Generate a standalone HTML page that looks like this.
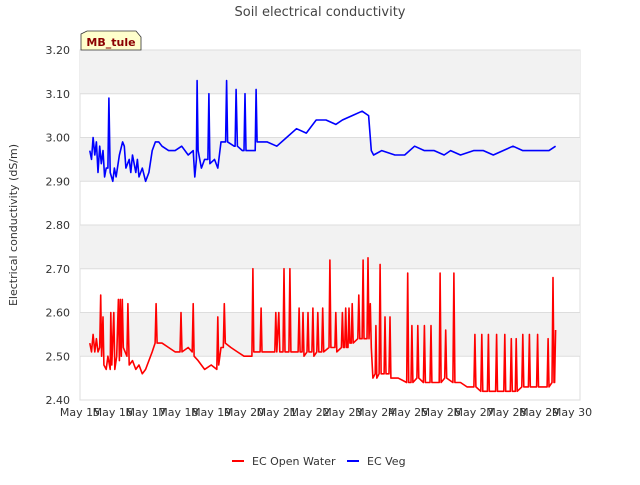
<!DOCTYPE html>
<html><head><meta charset="utf-8"><style>
body{margin:0;background:#fff;font-family:"Liberation Sans",sans-serif}
svg text{font-family:"DejaVu Sans","Liberation Sans",sans-serif}
</style></head><body>
<svg id="c" width="640" height="480" viewBox="0 0 640 480">
<text x="320" y="16" text-anchor="middle" font-size="13" fill="#444">Soil electrical conductivity</text>
<g id="grid"></g>
<g id="axes"></g>
<path id="red" fill="none" stroke="#ff0000" stroke-width="1.6" stroke-linejoin="round"/>
<path id="blue" fill="none" stroke="#0000ff" stroke-width="1.6" stroke-linejoin="round"/>
<text transform="translate(17,225) rotate(-90)" text-anchor="middle" font-size="11" fill="#333">Electrical conductivity (dS/m)</text>
<g>
<path d="M81,34 L87,31 L136,31 L141,37 L141,50 L81,50 Z" fill="#ffffcc" stroke="#333" stroke-width="0.8"/>
<text x="111" y="46" text-anchor="middle" font-size="11" font-weight="bold" fill="#8b0000">MB_tule</text>
</g>
<g>
<g><line x1="232" y1="461" x2="244" y2="461" stroke="#f00" stroke-width="2"/><text x="252" y="465" font-size="11" fill="#333">EC Open Water</text></g>
<g><line x1="347" y1="461" x2="359" y2="461" stroke="#00f" stroke-width="2"/><text x="367" y="465" font-size="11" fill="#333">EC Veg</text></g>
</g>
</svg>
<script>
const yTicks=[2.40,2.50,2.60,2.70,2.80,2.90,3.00,3.10,3.20];
const xTickDays=[15,16,17,18,19,20,21,22,23,24,25,26,27,28,29,30];
const blueT=[15.3,15.35,15.4,15.45,15.5,15.55,15.6,15.65,15.7,15.75,15.8,15.85,15.88,15.92,16.0,16.05,16.1,16.2,16.3,16.35,16.4,16.5,16.55,16.6,16.7,16.75,16.8,16.9,17.0,17.1,17.2,17.3,17.4,17.5,17.7,17.9,18.1,18.3,18.45,18.5,18.55,18.57,18.6,18.7,18.8,18.9,18.93,18.96,19.1,19.2,19.3,19.44,19.47,19.5,19.7,19.73,19.76,19.8,19.95,20.0,20.03,20.06,20.2,20.34,20.37,20.4,20.7,21.0,21.3,21.6,21.9,22.2,22.5,22.8,23.0,23.3,23.6,23.8,23.88,23.95,24.2,24.6,24.9,25.2,25.5,25.8,26.1,26.3,26.6,27.0,27.3,27.6,27.9,28.2,28.5,28.8,29.1,29.3,29.5];
const blueV=[2.97,2.95,3.00,2.96,2.99,2.92,2.98,2.94,2.97,2.91,2.93,2.93,3.09,2.92,2.90,2.93,2.91,2.96,2.99,2.98,2.93,2.95,2.92,2.96,2.92,2.95,2.91,2.93,2.90,2.92,2.97,2.99,2.99,2.98,2.97,2.97,2.98,2.96,2.97,2.91,2.95,3.13,2.97,2.93,2.95,2.95,3.10,2.94,2.95,2.93,2.99,2.99,3.13,2.99,2.98,2.98,3.11,2.98,2.97,2.97,3.10,2.97,2.97,2.97,3.11,2.99,2.99,2.98,3.00,3.02,3.01,3.04,3.04,3.03,3.04,3.05,3.06,3.05,2.97,2.96,2.97,2.96,2.96,2.98,2.97,2.97,2.96,2.97,2.96,2.97,2.97,2.96,2.97,2.98,2.97,2.97,2.97,2.97,2.98];
const redT=[15.3,15.35,15.4,15.45,15.5,15.55,15.6,15.63,15.66,15.7,15.73,15.8,15.85,15.92,15.94,15.97,16.03,16.06,16.12,16.17,16.2,16.23,16.26,16.29,16.32,16.43,16.46,16.5,16.6,16.7,16.8,16.9,17.0,17.1,17.2,17.29,17.32,17.35,17.5,17.7,17.9,18.05,18.08,18.11,18.3,18.42,18.45,18.48,18.6,18.8,19.0,19.17,19.2,19.23,19.3,19.37,19.4,19.43,19.6,19.8,20.0,20.24,20.27,20.3,20.49,20.52,20.55,20.8,20.94,20.97,21.0,21.06,21.09,21.19,21.22,21.25,21.37,21.4,21.43,21.65,21.68,21.71,21.77,21.8,21.83,21.92,21.95,21.98,22.07,22.1,22.13,22.22,22.25,22.28,22.37,22.4,22.43,22.59,22.62,22.65,22.77,22.8,22.83,22.97,23.0,23.03,23.07,23.1,23.13,23.17,23.2,23.23,23.27,23.3,23.33,23.47,23.5,23.53,23.6,23.63,23.66,23.75,23.78,23.81,23.85,23.88,23.93,24.0,24.02,24.05,24.12,24.15,24.18,24.27,24.3,24.33,24.42,24.45,24.48,24.7,24.96,24.99,25.02,25.09,25.12,25.15,25.27,25.3,25.33,25.47,25.5,25.53,25.67,25.7,25.73,25.95,25.98,26.01,26.12,26.15,26.18,26.37,26.4,26.43,26.6,26.8,27.01,27.04,27.07,27.22,27.25,27.28,27.42,27.45,27.48,27.67,27.7,27.73,27.92,27.95,27.98,28.12,28.15,28.18,28.27,28.3,28.33,28.47,28.5,28.53,28.67,28.7,28.73,28.92,28.95,28.98,29.1,29.24,29.27,29.3,29.39,29.42,29.45,29.47,29.5];
const redV=[2.53,2.51,2.55,2.51,2.54,2.51,2.52,2.64,2.50,2.59,2.48,2.47,2.50,2.47,2.60,2.48,2.60,2.47,2.50,2.63,2.49,2.63,2.50,2.63,2.52,2.50,2.62,2.48,2.49,2.47,2.48,2.46,2.47,2.49,2.51,2.53,2.62,2.53,2.53,2.52,2.51,2.51,2.60,2.51,2.52,2.51,2.62,2.50,2.49,2.47,2.48,2.47,2.59,2.48,2.52,2.52,2.62,2.53,2.52,2.51,2.50,2.50,2.70,2.51,2.51,2.61,2.51,2.51,2.51,2.60,2.51,2.60,2.51,2.51,2.70,2.51,2.51,2.70,2.51,2.51,2.61,2.51,2.51,2.60,2.50,2.51,2.60,2.51,2.51,2.61,2.50,2.51,2.60,2.51,2.51,2.61,2.51,2.52,2.72,2.52,2.52,2.60,2.51,2.52,2.60,2.52,2.52,2.61,2.52,2.52,2.61,2.53,2.53,2.62,2.53,2.54,2.64,2.54,2.54,2.72,2.54,2.54,2.725,2.54,2.62,2.52,2.45,2.46,2.57,2.45,2.46,2.71,2.46,2.46,2.59,2.46,2.46,2.59,2.45,2.45,2.44,2.69,2.44,2.44,2.57,2.44,2.45,2.57,2.45,2.44,2.57,2.44,2.44,2.57,2.44,2.44,2.69,2.44,2.45,2.56,2.45,2.44,2.69,2.44,2.44,2.43,2.43,2.55,2.43,2.42,2.55,2.42,2.42,2.55,2.42,2.42,2.55,2.42,2.42,2.55,2.42,2.42,2.54,2.42,2.42,2.54,2.42,2.43,2.55,2.43,2.43,2.55,2.43,2.43,2.55,2.43,2.43,2.43,2.54,2.43,2.44,2.68,2.44,2.44,2.56];
const L=80,R=580,T=50,B=400;
const xs=d=>L+(d-15)*(572-L)/15;
const ys=v=>B-(v-2.40)/(0.80)*(B-T);
const NS='http://www.w3.org/2000/svg';
const grid=document.getElementById('grid'),axes=document.getElementById('axes');
const bg=document.createElementNS(NS,'rect');
bg.setAttribute('x',L);bg.setAttribute('y',T);bg.setAttribute('width',R-L);bg.setAttribute('height',B-T);bg.setAttribute('fill','#fff');bg.setAttribute('stroke','#ddd');


grid.appendChild(bg);
for(let i=0;i<yTicks.length-1;i++){
  if(i%2===1){const r=document.createElementNS(NS,'rect');
  r.setAttribute('x',L);r.setAttribute('y',ys(yTicks[i+1]));r.setAttribute('width',R-L);r.setAttribute('height',ys(yTicks[i])-ys(yTicks[i+1]));r.setAttribute('fill','#f2f2f2');
  
  
  grid.appendChild(r);}
}
yTicks.forEach(v=>{
  const l=document.createElementNS(NS,'line');
  l.setAttribute('x1',L);l.setAttribute('x2',R);l.setAttribute('y1',ys(v));l.setAttribute('y2',ys(v));l.setAttribute('stroke','#ddd');
  
  
  grid.appendChild(l);
  const t=document.createElementNS(NS,'text');
  t.setAttribute('x',L-10);t.setAttribute('y',ys(v)+4);t.setAttribute('text-anchor','end');t.setAttribute('font-size','11');t.setAttribute('fill','#333');
  t.textContent=v.toFixed(2);
  
  
  axes.appendChild(t);
});
xTickDays.forEach(d=>{
  const t=document.createElementNS(NS,'text');
  t.setAttribute('x',xs(d));t.setAttribute('y',416);t.setAttribute('text-anchor','middle');t.setAttribute('font-size','11');t.setAttribute('fill','#333');
  t.textContent='May '+d;
  
  
  axes.appendChild(t);
});
const path=(T_,V)=>T_.map((d,i)=>(i?'L':'M')+xs(d).toFixed(1)+','+ys(V[i]).toFixed(1)).join(' ');
document.getElementById('red').setAttribute('d',path(redT,redV));
document.getElementById('blue').setAttribute('d',path(blueT,blueV));
</script>
</body></html>
